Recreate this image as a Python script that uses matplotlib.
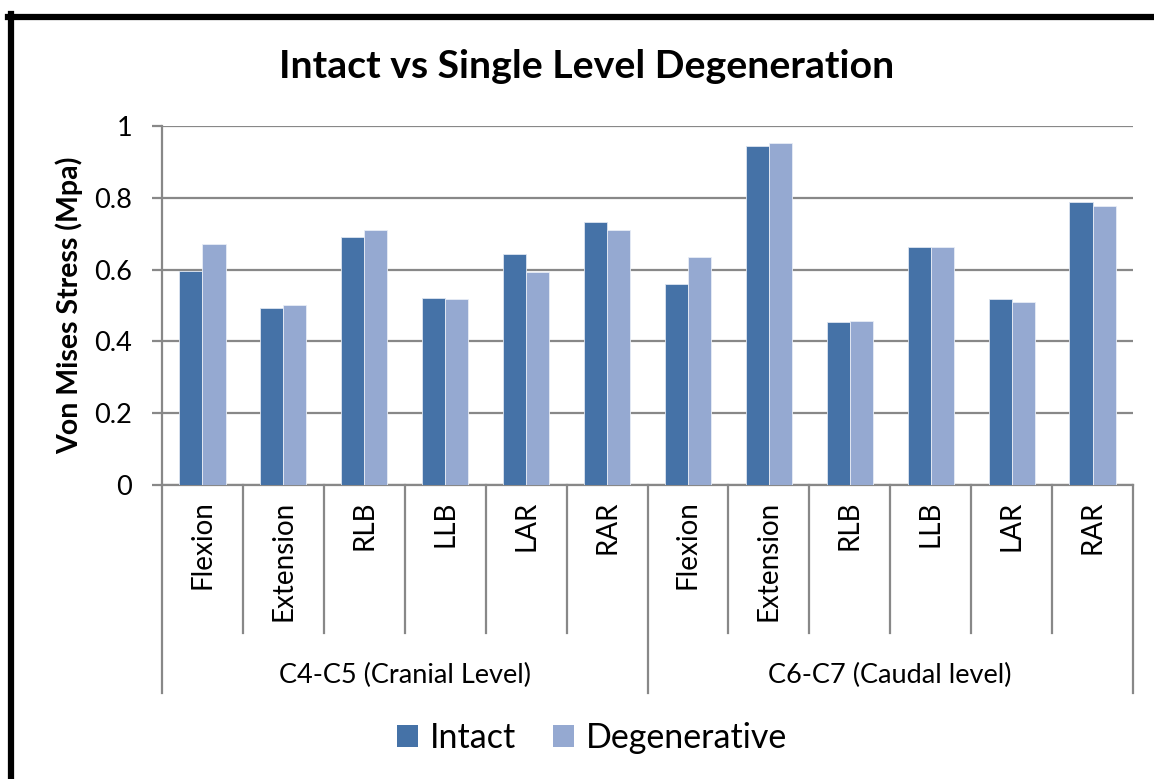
import matplotlib

matplotlib.use("Agg")
import matplotlib.pyplot as plt
import numpy as np
from matplotlib.lines import Line2D
from matplotlib.patches import Patch

plt.rcParams["font.family"] = ["Lato", "DejaVu Sans"]

motions = ["Flexion", "Extension", "RLB", "LLB", "LAR", "RAR"]
levels = ["C4-C5 (Cranial Level)", "C6-C7 (Caudal level)"]
series = ["Intact", "Degenerative"]

intact = [0.596, 0.494, 0.692, 0.521, 0.644, 0.732,
          0.561, 0.944, 0.454, 0.662, 0.517, 0.787]
degenerative = [0.672, 0.502, 0.711, 0.519, 0.592, 0.709,
                0.636, 0.952, 0.456, 0.663, 0.510, 0.778]

yticks = [0, 0.2, 0.4, 0.6, 0.8, 1]

C_INTACT = "#4572A7"
C_DEGEN = "#95A9D1"
GRID = "#888888"

W, H = 1154, 779
fig = plt.figure(figsize=(W / 100, H / 100), dpi=100)
fig.patch.set_facecolor("white")

x0, x1, y0, y1 = 162, 1133, 485, 126
ax = fig.add_axes([x0 / W, 1 - y0 / H, (x1 - x0) / W, (y0 - y1) / H])

labels = motions * len(levels)
x = np.arange(len(labels))
bw = 0.285
ax.bar(x - bw / 2, intact, bw, color=C_INTACT, edgecolor="#dde5f0", linewidth=0.6, zorder=3)
ax.bar(x + bw / 2, degenerative, bw, color=C_DEGEN, edgecolor="#e8edf6", linewidth=0.6, zorder=3)

ax.set_xlim(-0.5, len(labels) - 0.5)
ax.set_ylim(0, 1)
ax.set_yticks(yticks)
ax.set_yticklabels([f"{v:g}" for v in yticks], fontsize=19.5)
ax.yaxis.grid(True, color=GRID, linewidth=1.6, zorder=0)
ax.set_axisbelow(True)
for s in ["top", "right"]:
    ax.spines[s].set_visible(False)
for s in ["left", "bottom"]:
    ax.spines[s].set_color(GRID)
    ax.spines[s].set_linewidth(1.6)
ax.tick_params(axis="y", length=7.5, width=1.6, color=GRID, pad=14)

ax.set_xticks(x)
ax.set_xticklabels(labels, rotation=90, fontsize=20)
ax.tick_params(axis="x", length=0, pad=11)

ax.set_ylabel("Von Mises Stress (Mpa)", fontsize=20.5, fontweight="bold", labelpad=8)

# category separators below the axis
trans = ax.get_xaxis_transform()
sep_short = (y0 - 633) / (y0 - y1)
sep_long = (y0 - 693) / (y0 - y1)
n = len(motions)
for k in range(len(labels) + 1):
    bottom = sep_long if k % n == 0 else sep_short
    ax.plot([k - 0.5, k - 0.5], [0, bottom], color=GRID, linewidth=1.6,
            transform=trans, clip_on=False)

grp_y = (y0 - 675) / (y0 - y1)
for g, name in enumerate(levels):
    ax.text(g * n + (n - 1) / 2, grp_y, name, transform=trans,
            ha="center", va="center", fontsize=19.5)

fig.text(587 / W, 1 - 66 / H, "Intact vs Single Level Degeneration",
         ha="center", va="center", fontsize=28.3, fontweight="bold")

handles = [Patch(facecolor=C_INTACT), Patch(facecolor=C_DEGEN)]
fig.legend(handles, series, loc="center", bbox_to_anchor=(592 / W, 1 - 738 / H),
           ncol=2, frameon=False, fontsize=24.5, handlelength=0.62, handleheight=0.62,
           handletextpad=0.35, columnspacing=1.1)

# outer chart frame (only top and left edges are visible)
fig.add_artist(Line2D([8 / W, 1], [1 - 17 / H, 1 - 17 / H], color="black", linewidth=4.5))
fig.add_artist(Line2D([11 / W, 11 / W], [1 - 14 / H, 0], color="black", linewidth=4.5))

fig.savefig("out.png", dpi=100)
